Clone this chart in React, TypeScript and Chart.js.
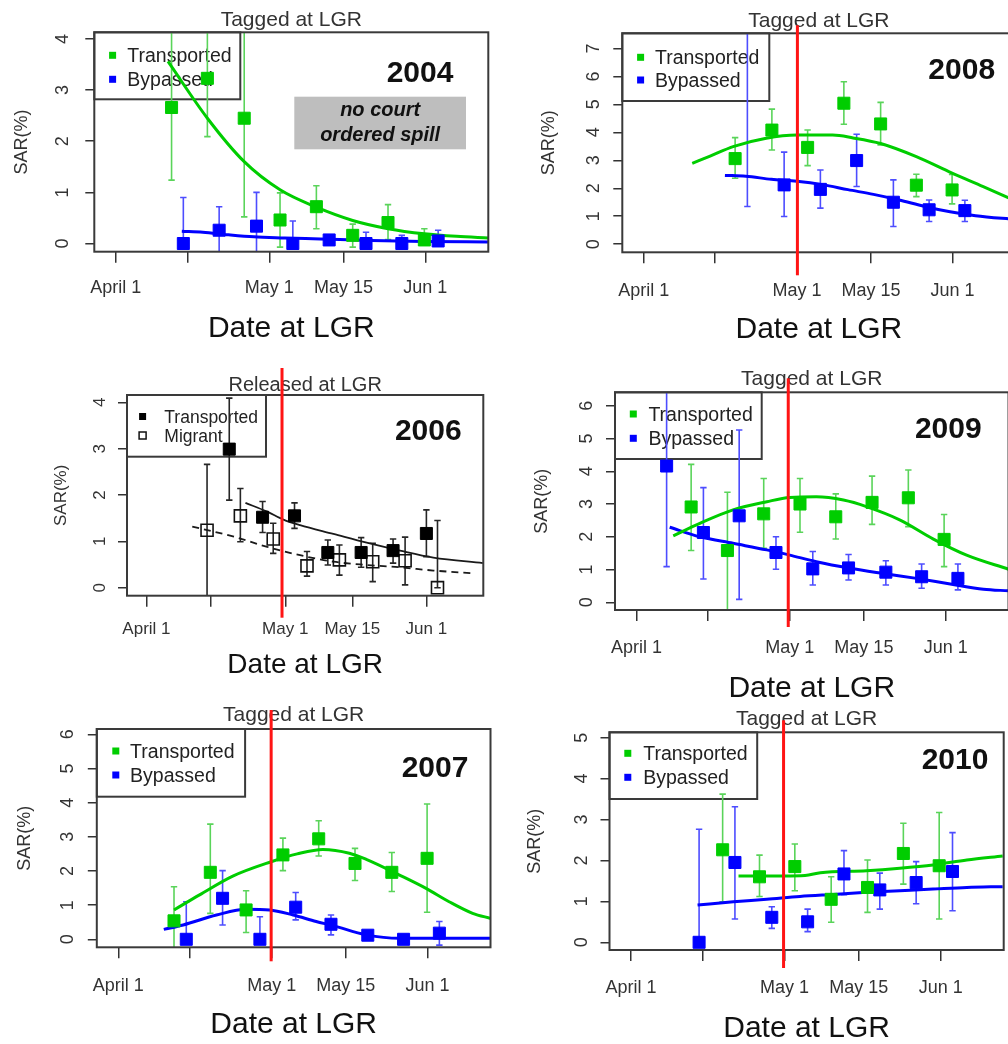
import React, { useEffect, useRef } from 'react';
import { Chart, registerables } from 'chart.js';

Chart.register(...registerables);

const FONT = '"Liberation Sans", Arial, Helvetica, sans-serif';

/* ---------- shared x axis: days after April 1 ---------- */
const xTickDays = [0, 14, 30, 44.5, 60.5];
const xTickLabels = ['April 1', '', 'May 1', 'May 15', 'Jun 1'];
const xDayRange = [-4.2, 72.8];

/* ---------- 2004 ---------- */
const y2004Ticks = [0, 1, 2, 3, 4];
const y2004Range = [-0.16, 4.13];
const t2004Days = [10.9, 17.9, 25.1, 32.1, 39.2, 46.3, 53.2, 60.3];
const t2004Sar = [2.66, 3.23, 2.45, 0.46, 0.72, 0.16, 0.41, 0.07];
const t2004Lo = [1.24, 2.09, 0.52, -0.07, 0.29, -0.07, 0.08, -0.03];
const t2004Hi = [4.5, 4.5, 4.5, 0.99, 1.13, 0.38, 0.76, 0.29];
const b2004Days = [13.2, 20.2, 27.5, 34.6, 41.7, 48.9, 55.9, 63.0];
const b2004Sar = [0, 0.26, 0.34, 0, 0.07, 0, 0, 0.05];
const b2004Lo = [0, -0.25, -0.25, 0, 0.02, -0.05, 0, -0.02];
const b2004Hi = [0.9, 0.72, 1.0, 0.44, 0.12, 0.22, 0.16, 0.26];
const ft2004Days = [10.2, 17.9, 25.1, 32.1, 39.2, 46.3, 53.2, 60.3, 66.6, 72.8];
const ft2004Sar = [3.56, 2.45, 1.6, 1.05, 0.71, 0.45, 0.29, 0.19, 0.14, 0.11];
const fb2004Days = [12.9, 17, 22, 27, 33, 40, 50, 60, 72.8];
const fb2004Sar = [0.24, 0.22, 0.17, 0.13, 0.11, 0.09, 0.06, 0.04, 0.03];

/* ---------- 2008 ---------- */
const y2008Ticks = [0, 1, 2, 3, 4, 5, 6, 7];
const y2008Range = [-0.29, 7.54];
const t2008Days = [17.9, 25.1, 32.1, 39.2, 46.4, 53.4, 60.4];
const t2008Sar = [3.06, 4.08, 3.46, 5.04, 4.3, 2.11, 1.94];
const t2008Lo = [2.36, 3.37, 2.81, 4.29, 3.55, 1.7, 1.44];
const t2008Hi = [3.81, 4.83, 4.08, 5.81, 5.07, 2.5, 2.49];
const b2008Days = [20.3, 27.5, 34.6, 41.7, 48.9, 55.9, 62.9];
const b2008Sar = [8.0, 2.12, 1.96, 2.99, 1.5, 1.23, 1.2];
const b2008Lo = [1.35, 0.99, 1.29, 2.06, 0.63, 0.81, 0.81];
const b2008Hi = [12, 3.29, 2.65, 3.93, 2.3, 1.58, 1.57];
const ft2008Days = [9.5, 13, 17.5, 24, 30, 37, 41, 46.4, 53.4, 60.4, 66.5, 72.8];
const ft2008Sar = [2.89, 3.15, 3.49, 3.79, 3.9, 3.9, 3.8, 3.6, 3.13, 2.54, 2.06, 1.55];
const fb2008Days = [15.9, 20, 25, 30, 35, 40, 45, 50, 55, 60, 65, 72.8];
const fb2008Sar = [2.46, 2.43, 2.32, 2.25, 2.13, 1.95, 1.78, 1.58, 1.35, 1.16, 1.02, 0.88];
const spill2008Day = 30.1;

/* ---------- 2006 ---------- */
const y2006Ticks = [0, 1, 2, 3, 4];
const y2006Range = [-0.173, 4.158];
const t2006Days = [17.9, 25.1, 32.0, 39.2, 46.4, 53.3, 60.5];
const t2006Sar = [2.99, 1.52, 1.55, 0.76, 0.76, 0.8, 1.17];
const t2006Lo = [1.89, 1.19, 1.28, 0.49, 0.44, 0.53, 0.67];
const t2006Hi = [4.09, 1.86, 1.83, 1.03, 1.08, 1.05, 1.68];
const m2006Days = [13.1, 20.3, 27.4, 34.7, 41.7, 48.9, 55.9, 62.9];
const m2006Sar = [1.24, 1.55, 1.05, 0.47, 0.6, 0.56, 0.58, 0.0];
const m2006Lo = [-0.2, 0.99, 0.74, 0.25, 0.27, 0.13, 0.06, 0.0];
const m2006Hi = [2.66, 2.14, 1.39, 0.78, 0.92, 0.96, 1.09, 1.45];
const ft2006Days = [21.4, 26.1, 29.6, 33.2, 40.4, 47.6, 54.8, 62, 72.7];
const ft2006Sar = [1.83, 1.64, 1.47, 1.35, 1.16, 0.97, 0.8, 0.65, 0.53];
const fm2006Days = [9.9, 18.9, 26.1, 33.2, 40.4, 47.6, 54.8, 62, 70.9];
const fm2006Sar = [1.32, 1.1, 0.88, 0.7, 0.56, 0.49, 0.44, 0.37, 0.31];
const spill2006Day = 29.3;

/* ---------- 2009 ---------- */
const y2009Ticks = [0, 1, 2, 3, 4, 5, 6];
const y2009Range = [-0.235, 6.41];
const t2009Days = [10.7, 17.8, 24.9, 32.0, 39.0, 46.1, 53.2, 60.2];
const t2009Sar = [2.91, 1.58, 2.7, 3.0, 2.61, 3.05, 3.19, 1.92];
const t2009Lo = [1.58, -0.3, 1.65, 2.14, 1.93, 2.38, 2.31, 1.09];
const t2009Hi = [4.21, 3.36, 3.78, 3.78, 3.31, 3.85, 4.04, 2.68];
const b2009Days = [5.9, 13.1, 20.1, 27.3, 34.5, 41.5, 48.8, 55.8, 62.9];
const b2009Sar = [4.16, 2.13, 2.64, 1.52, 1.02, 1.05, 0.92, 0.78, 0.73];
const b2009Lo = [1.09, 0.71, 0.09, 1.01, 0.53, 0.68, 0.53, 0.43, 0.38];
const b2009Hi = [7.0, 3.5, 5.26, 2.0, 1.55, 1.46, 1.27, 1.17, 1.17];
const ft2009Days = [7.2, 12.4, 18.9, 25.5, 30, 35.2, 40.5, 45, 51.6, 58.1, 64.6, 72.8];
const ft2009Sar = [2.03, 2.41, 2.82, 3.07, 3.2, 3.22, 3.12, 2.92, 2.51, 1.93, 1.44, 1.01];
const fb2009Days = [6.5, 12.4, 18.9, 25.5, 30, 35.2, 41.8, 48.3, 54.8, 61.4, 67.9, 72.8];
const fb2009Sar = [2.29, 2.0, 1.8, 1.6, 1.44, 1.24, 1.04, 0.88, 0.73, 0.56, 0.4, 0.35];
const spill2009Day = 29.7;

/* ---------- 2007 ---------- */
const y2007Ticks = [0, 1, 2, 3, 4, 5, 6];
const y2007Range = [-0.234, 6.155];
const t2007Days = [10.9, 18.0, 25.0, 32.2, 39.2, 46.3, 53.5, 60.4];
const t2007Sar = [0.54, 1.96, 0.86, 2.47, 2.94, 2.22, 1.96, 2.37];
const t2007Lo = [-0.3, 0.76, 0.2, 2.01, 2.44, 1.72, 1.4, 0.79];
const t2007Hi = [1.54, 3.37, 1.42, 2.96, 3.47, 2.66, 2.54, 3.96];
const b2007Days = [13.3, 20.4, 27.7, 34.7, 41.6, 48.8, 55.8, 62.8];
const b2007Sar = [0, 1.2, 0, 0.94, 0.44, 0.12, 0, 0.18];
const b2007Lo = [0, 0.42, 0, 0.57, 0.13, 0.03, 0, -0.17];
const b2007Hi = [1.1, 2.01, 0.66, 1.37, 0.71, 0.22, 0.13, 0.52];
const ft2007Days = [10.9, 15.9, 22.4, 29.9, 35, 40, 45.2, 48.5, 55, 60.2, 64.7, 69.3, 72.9];
const ft2007Sar = [0.86, 1.3, 1.85, 2.27, 2.5, 2.63, 2.52, 2.34, 1.88, 1.49, 1.1, 0.76, 0.61];
const fb2007Days = [8.9, 12.7, 19.2, 25, 29.6, 34.2, 38.7, 42, 48.5, 55, 61.5, 72.9];
const fb2007Sar = [0.29, 0.42, 0.71, 0.88, 0.86, 0.71, 0.52, 0.4, 0.13, 0.03, 0.03, 0.03];
const spill2007Day = 29.9;

/* ---------- 2010 ---------- */
const y2010Ticks = [0, 1, 2, 3, 4, 5];
const y2010Range = [-0.188, 5.13];
const t2010Days = [17.9, 25.1, 32.0, 39.1, 46.2, 53.2, 60.2];
const t2010Sar = [2.26, 1.6, 1.85, 1.05, 1.34, 2.17, 1.87];
const t2010Lo = [0.99, 1.12, 1.26, 0.49, 0.73, 1.42, 0.57];
const t2010Hi = [3.62, 2.13, 2.4, 1.6, 2.01, 2.91, 3.17];
const b2010Days = [13.3, 20.3, 27.5, 34.5, 41.6, 48.6, 55.7, 62.8];
const b2010Sar = [0, 1.95, 0.61, 0.5, 1.67, 1.28, 1.46, 1.73];
const b2010Lo = [0, 0.57, 0.34, 0.26, 1.16, 0.81, 0.94, 0.77];
const b2010Hi = [2.76, 3.31, 0.87, 0.81, 2.24, 1.69, 1.97, 2.68];
const ft2010Days = [21, 29.8, 34, 37, 46, 52.5, 59, 65.6, 72.6];
const ft2010Sar = [1.62, 1.62, 1.63, 1.7, 1.75, 1.81, 1.89, 2.01, 2.11];
const fb2010Days = [13, 20, 26.5, 33, 39.5, 46, 52.5, 59, 65.6, 72.6];
const fb2010Sar = [0.91, 0.99, 1.05, 1.12, 1.17, 1.22, 1.26, 1.3, 1.34, 1.36];
const spill2010Day = 29.8;

/* ---------- styles ---------- */
const STYLE: Record<string, any> = {
  green: { point: '#00cd00', line: '#00cd00', err: '#5ad45a', open: false, width: 3 },
  blue: { point: '#0000ff', line: '#0000ff', err: '#4d4dff', open: false, width: 3 },
  black: { point: '#000000', line: '#1a1a1a', err: '#262626', open: false, width: 1.8 },
  blackOpen: { point: '#111111', line: '#1a1a1a', err: '#262626', open: true, width: 1.8 },
};

const STD_FONTS = { tick: 18, title: 21, axis: 18, date: 30, year: 30 };
const STD_LEGEND = { w: 147, h: 67, mx: 18.3, r1: 22.5, r2: 46.5, tx: 33, tdy: 1.5, size: 19.5, m: 7 };

const panels: any[] = [
  {
    key: 'p2004', year: '2004', title: 'Tagged at LGR', yTicks: y2004Ticks, yRange: y2004Range,
    series: [
      { label: 'Transported', kind: 'green', days: t2004Days, sar: t2004Sar, lo: t2004Lo, hi: t2004Hi },
      { label: 'Bypassed', kind: 'blue', days: b2004Days, sar: b2004Sar, lo: b2004Lo, hi: b2004Hi },
    ],
    fits: [
      { kind: 'green', days: ft2004Days, sar: ft2004Sar },
      { kind: 'blue', days: fb2004Days, sar: fb2004Sar },
    ],
    redDay: null,
    note: ['no court', 'ordered spill'],
    geo: {
      canvas: [0, 0, 500, 345], box: [94.3, 32.3, 488.3, 251.7],
      yTickGap: 31, sarGap: 72, xTickDrop: 36.6, dateDrop: 76.6, titleRise: 12.3,
      yearAt: [420, 74], legend: { ...STD_LEGEND, w: 146, r1: 23, r2: 47 }, red: [0, 0], fonts: STD_FONTS,
      note: [294.3, 96.7, 466, 149.3], noteFont: 20, noteLead: 24.6,
    },
  },
  {
    key: 'p2008', year: '2008', title: 'Tagged at LGR', yTicks: y2008Ticks, yRange: y2008Range,
    series: [
      { label: 'Transported', kind: 'green', days: t2008Days, sar: t2008Sar, lo: t2008Lo, hi: t2008Hi },
      { label: 'Bypassed', kind: 'blue', days: b2008Days, sar: b2008Sar, lo: b2008Lo, hi: b2008Hi },
    ],
    fits: [
      { kind: 'green', days: ft2008Days, sar: ft2008Sar },
      { kind: 'blue', days: fb2008Days, sar: fb2008Sar },
    ],
    redDay: spill2008Day,
    geo: {
      canvas: [500, 0, 530, 345], box: [622.3, 33.3, 1015.4, 252.3],
      yTickGap: 28, sarGap: 73, xTickDrop: 38.4, dateDrop: 77.7, titleRise: 11.6,
      yearAt: [961.7, 70.7], legend: { ...STD_LEGEND, h: 67.7, r1: 24, r2: 46.7, tx: 32.7 }, red: [8, 23], fonts: STD_FONTS,
    },
  },
  {
    key: 'p2006', year: '2006', title: 'Released at LGR', yTicks: y2006Ticks, yRange: y2006Range,
    series: [
      { label: 'Transported', kind: 'black', days: t2006Days, sar: t2006Sar, lo: t2006Lo, hi: t2006Hi },
      { label: 'Migrant', kind: 'blackOpen', days: m2006Days, sar: m2006Sar, lo: m2006Lo, hi: m2006Hi },
    ],
    fits: [
      { kind: 'black', days: ft2006Days, sar: ft2006Sar },
      { kind: 'blackOpen', days: fm2006Days, sar: fm2006Sar, dashed: true },
    ],
    redDay: spill2006Day,
    geo: {
      canvas: [0, 345, 500, 345], box: [127, 395, 483.3, 595.7],
      yTickGap: 27, sarGap: 65.3, xTickDrop: 33.6, dateDrop: 69.3, titleRise: 10,
      yearAt: [428.3, 431.7],
      legend: { w: 139, h: 61.7, mx: 15.6, r1: 21.5, r2: 40.5, tx: 37.3, tdy: 1.5, size: 17.5, m: 7 },
      red: [27, 22], fonts: { tick: 17, title: 20, axis: 17, date: 28, year: 30 },
    },
  },
  {
    key: 'p2009', year: '2009', title: 'Tagged at LGR', yTicks: y2009Ticks, yRange: y2009Range,
    series: [
      { label: 'Transported', kind: 'green', days: t2009Days, sar: t2009Sar, lo: t2009Lo, hi: t2009Hi },
      { label: 'Bypassed', kind: 'blue', days: b2009Days, sar: b2009Sar, lo: b2009Lo, hi: b2009Hi },
    ],
    fits: [
      { kind: 'green', days: ft2009Days, sar: ft2009Sar },
      { kind: 'blue', days: fb2009Days, sar: fb2009Sar },
    ],
    redDay: spill2009Day,
    geo: {
      canvas: [500, 345, 530, 360], box: [615, 392.3, 1008.5, 610],
      yTickGap: 28.3, sarGap: 73.3, xTickDrop: 38.3, dateDrop: 78.3, titleRise: 13.3,
      yearAt: [948.3, 430], legend: { ...STD_LEGEND, w: 146.7, h: 66.7, r1: 21.7, r2: 46, tx: 33.4 }, red: [14, 17], fonts: STD_FONTS,
    },
  },
  {
    key: 'p2007', year: '2007', title: 'Tagged at LGR', yTicks: y2007Ticks, yRange: y2007Range,
    series: [
      { label: 'Transported', kind: 'green', days: t2007Days, sar: t2007Sar, lo: t2007Lo, hi: t2007Hi },
      { label: 'Bypassed', kind: 'blue', days: b2007Days, sar: b2007Sar, lo: b2007Lo, hi: b2007Hi },
    ],
    fits: [
      { kind: 'green', days: ft2007Days, sar: ft2007Sar },
      { kind: 'blue', days: fb2007Days, sar: fb2007Sar },
    ],
    redDay: spill2007Day,
    geo: {
      canvas: [0, 690, 500, 354], box: [96.8, 729, 491.5, 947.3],
      yTickGap: 28.5, sarGap: 71.8, xTickDrop: 38.4, dateDrop: 77.7, titleRise: 13.3,
      yearAt: [435, 768.3], legend: { ...STD_LEGEND, w: 148.3, h: 67.7, mx: 19, r1: 22, r2: 46, tx: 33.3 }, red: [19, 14], fonts: STD_FONTS,
    },
  },
  {
    key: 'p2010', year: '2010', title: 'Tagged at LGR', yTicks: y2010Ticks, yRange: y2010Range,
    series: [
      { label: 'Transported', kind: 'green', days: t2010Days, sar: t2010Sar, lo: t2010Lo, hi: t2010Hi },
      { label: 'Bypassed', kind: 'blue', days: b2010Days, sar: b2010Sar, lo: b2010Lo, hi: b2010Hi },
    ],
    fits: [
      { kind: 'green', days: ft2010Days, sar: ft2010Sar },
      { kind: 'blue', days: fb2010Days, sar: fb2010Sar },
    ],
    redDay: spill2010Day,
    geo: {
      canvas: [500, 705, 530, 339], box: [609.5, 732.3, 1003.7, 950],
      yTickGap: 27.8, sarGap: 74.5, xTickDrop: 38.3, dateDrop: 78.3, titleRise: 13.3,
      yearAt: [955, 761], legend: { ...STD_LEGEND, w: 147.7, h: 66.7, r1: 21, r2: 45, tx: 33.7 }, red: [12, 18], fonts: STD_FONTS,
    },
  },
];

function decorPlugin(p: any) {
  const g = p.geo;
  const f = g.fonts;
  const [cl, ct] = g.canvas;
  return {
    id: 'rdecor',
    beforeDatasetsDraw(chart: any) {
      const { ctx, chartArea: a, scales } = chart;
      const xs = scales.x;
      const ys = scales.y;
      ctx.save();
      if (p.note) {
        const x1 = g.note[0] - cl, y1 = g.note[1] - ct, x2 = g.note[2] - cl, y2 = g.note[3] - ct;
        ctx.fillStyle = '#bebebe';
        ctx.fillRect(x1, y1, x2 - x1, y2 - y1);
        ctx.fillStyle = '#111';
        ctx.font = `italic bold ${g.noteFont}px ${FONT}`;
        ctx.textAlign = 'center';
        ctx.textBaseline = 'middle';
        const cx = (x1 + x2) / 2;
        const cy = (y1 + y2) / 2;
        p.note.forEach((line: string, i: number) => {
          ctx.fillText(line, cx, cy + (i - (p.note.length - 1) / 2) * g.noteLead);
        });
      }
      // R-style legend box
      const L = g.legend;
      ctx.strokeStyle = '#3a3a3a';
      ctx.lineWidth = 2;
      ctx.strokeRect(a.left, a.top, L.w, L.h);
      p.series.forEach((s: any, i: number) => {
        const st = STYLE[s.kind];
        const cy = a.top + (i === 0 ? L.r1 : L.r2);
        const mx = a.left + L.mx;
        if (st.open) {
          ctx.strokeStyle = st.point;
          ctx.lineWidth = 1.5;
          ctx.strokeRect(mx - L.m / 2, cy - L.m / 2, L.m, L.m);
        } else {
          ctx.fillStyle = st.point;
          ctx.fillRect(mx - L.m / 2, cy - L.m / 2, L.m, L.m);
        }
        ctx.fillStyle = '#222';
        ctx.font = `${L.size}px ${FONT}`;
        ctx.textAlign = 'left';
        ctx.textBaseline = 'middle';
        ctx.fillText(s.label, a.left + L.tx, cy + L.tdy);
      });
      // error bars (clipped to plot region)
      ctx.beginPath();
      ctx.rect(a.left, a.top, a.right - a.left, a.bottom - a.top);
      ctx.clip();
      chart.data.datasets.forEach((ds: any) => {
        if (!ds.errLo) return;
        ctx.strokeStyle = ds.errColor;
        ctx.lineWidth = 1.6;
        ds.data.forEach((pt: any, i: number) => {
          const x = xs.getPixelForValue(pt.x);
          const yl = ys.getPixelForValue(ds.errLo[i]);
          const yh = ys.getPixelForValue(ds.errHi[i]);
          if (Math.abs(yl - yh) < 0.5) return;
          ctx.beginPath();
          ctx.moveTo(x, yl);
          ctx.lineTo(x, yh);
          ctx.moveTo(x - 3.2, yl);
          ctx.lineTo(x + 3.2, yl);
          ctx.moveTo(x - 3.2, yh);
          ctx.lineTo(x + 3.2, yh);
          ctx.stroke();
        });
      });
      ctx.restore();
    },
    afterDatasetsDraw(chart: any) {
      const { ctx, chartArea: a, scales } = chart;
      ctx.save();
      // plot box
      ctx.strokeStyle = '#3a3a3a';
      ctx.lineWidth = 2;
      ctx.strokeRect(a.left, a.top, a.right - a.left, a.bottom - a.top);
      // main title
      ctx.fillStyle = '#333';
      ctx.font = `${f.title}px ${FONT}`;
      ctx.textAlign = 'center';
      ctx.textBaseline = 'middle';
      ctx.fillText(p.title, (a.left + a.right) / 2, a.top - g.titleRise);
      // year label
      ctx.fillStyle = '#111';
      ctx.font = `bold ${f.year}px ${FONT}`;
      ctx.fillText(p.year, g.yearAt[0] - cl, g.yearAt[1] - ct);
      // red line at start of spill
      if (p.redDay !== null && p.redDay !== undefined) {
        const x = scales.x.getPixelForValue(p.redDay);
        ctx.strokeStyle = '#ff1414';
        ctx.lineWidth = 3;
        ctx.beginPath();
        ctx.moveTo(x, a.top - g.red[0]);
        ctx.lineTo(x, a.bottom + g.red[1]);
        ctx.stroke();
      }
      ctx.restore();
    },
  };
}

function buildConfig(p: any) {
  const g = p.geo;
  const [cl, ct, cw, ch] = g.canvas;
  const bl = g.box[0] - cl;
  const bt = g.box[1] - ct;
  const br = g.box[2] - cl;
  const bb = g.box[3] - ct;
  const f = g.fonts;
  const datasets: any[] = [];
  p.fits.forEach((fit: any) => {
    const st = STYLE[fit.kind];
    datasets.push({
      type: 'line',
      data: fit.days.map((d: number, i: number) => ({ x: d, y: fit.sar[i] })),
      borderColor: st.line,
      borderWidth: st.width,
      borderDash: fit.dashed ? [7, 5] : [],
      pointRadius: 0,
      cubicInterpolationMode: 'monotone',
      fill: false,
      clip: 0,
      order: 2,
    });
  });
  p.series.forEach((s: any) => {
    const st = STYLE[s.kind];
    datasets.push({
      type: 'line',
      showLine: false,
      data: s.days.map((d: number, i: number) => ({ x: d, y: s.sar[i] })),
      pointStyle: 'rect',
      pointRadius: 8.5,
      pointBorderWidth: st.open ? 1.6 : 1,
      pointBackgroundColor: st.open ? 'rgba(0,0,0,0)' : st.point,
      pointBorderColor: st.point,
      clip: 0,
      order: 1,
      errLo: s.lo,
      errHi: s.hi,
      errColor: st.err,
    });
  });
  const widest = f.tick * 0.556;
  return {
    type: 'line',
    data: { datasets },
    options: {
      animation: false,
      responsive: false,
      devicePixelRatio: 1,
      events: [],
      layout: { padding: { left: 0, top: bt, right: cw - br, bottom: 0 } },
      plugins: { legend: { display: false }, tooltip: { enabled: false }, title: { display: false } },
      scales: {
        x: {
          type: 'linear',
          min: xDayRange[0],
          max: xDayRange[1],
          bounds: 'data',
          afterBuildTicks: (sc: any) => { sc.ticks = xTickDays.map((v) => ({ value: v })); },
          afterFit: (sc: any) => { sc.height = ch - bb; },
          ticks: {
            autoSkip: false, maxRotation: 0, minRotation: 0,
            padding: g.xTickDrop - 11 - f.tick / 2,
            font: { family: FONT, size: f.tick, lineHeight: 1 },
            color: '#333',
            callback: (_v: any, i: number) => xTickLabels[i],
          },
          grid: { drawOnChartArea: false, drawTicks: true, tickLength: 11, color: '#333', lineWidth: 1.5 },
          border: { display: false },
          title: {
            display: true, text: 'Date at LGR', color: '#111',
            font: { family: FONT, size: f.date, lineHeight: 1 },
            padding: { top: 0, bottom: ch - (bb + g.dateDrop) - f.date / 2 },
          },
        },
        y: {
          type: 'linear',
          min: p.yRange[0],
          max: p.yRange[1],
          bounds: 'data',
          afterBuildTicks: (sc: any) => { sc.ticks = p.yTicks.map((v: number) => ({ value: v })); },
          afterFit: (sc: any) => { sc.width = bl; },
          ticks: {
            autoSkip: false, minRotation: 90, maxRotation: 90, crossAlign: 'center',
            padding: g.yTickGap - 9 - widest / 2,
            font: { family: FONT, size: f.tick, lineHeight: 1 },
            color: '#333',
            callback: (v: any) => String(v),
          },
          grid: { drawOnChartArea: false, drawTicks: true, tickLength: 9, color: '#333', lineWidth: 1.5 },
          border: { display: false },
          title: {
            display: true, text: 'SAR(%)', color: '#333',
            font: { family: FONT, size: f.axis, lineHeight: 1 },
            padding: { top: bl - g.sarGap - f.axis / 2, bottom: 0 },
          },
        },
      },
    },
    plugins: [decorPlugin(p)],
  };
}

function PanelChart({ p }: { p: any }) {
  const ref = useRef<HTMLCanvasElement>(null);
  useEffect(() => {
    const chart = new Chart(ref.current as HTMLCanvasElement, buildConfig(p) as any);
    return () => chart.destroy();
  }, [p]);
  const [l, t, w, h] = p.geo.canvas;
  return (
    <canvas
      ref={ref}
      width={w}
      height={h}
      style={{ position: 'absolute', left: l, top: t, width: w, height: h }}
    />
  );
}

export default function App() {
  return (
    <div
      style={{
        position: 'absolute', left: 0, top: 0, width: 1008, height: 1044,
        overflow: 'hidden', background: '#ffffff',
      }}
    >
      {panels.map((p) => <PanelChart key={p.key} p={p} />)}
    </div>
  );
}
